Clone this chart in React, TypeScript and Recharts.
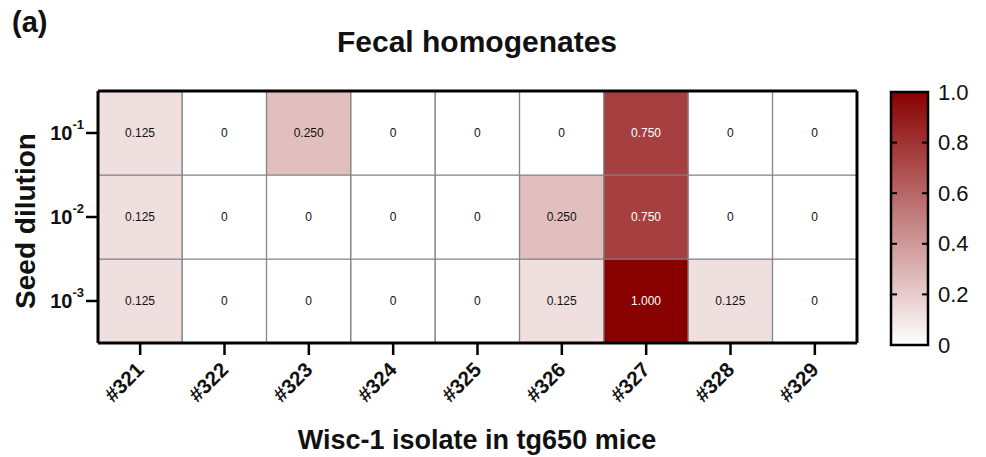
import React from "react";
import { BarChart, Bar, XAxis, YAxis, Cell, LabelList } from "recharts";

// ---- data ----
const isolates = ["#321", "#322", "#323", "#324", "#325", "#326", "#327", "#328", "#329"];
const dilution1 = [0.125, 0, 0.25, 0, 0, 0, 0.75, 0, 0]; // 10^-1
const dilution2 = [0.125, 0, 0, 0, 0, 0.25, 0.75, 0, 0]; // 10^-2
const dilution3 = [0.125, 0, 0, 0, 0, 0.125, 1.0, 0.125, 0]; // 10^-3
const dilutionBase = "10";
const dilutionExponents = ["-3", "-2", "-1"]; // bottom -> top
const rowTicks = [0.5, 1.5, 2.5];
const colorbarTicks = [0, 0.2, 0.4, 0.6, 0.8, 1.0];
const colorbarLabels = ["0", "0.2", "0.4", "0.6", "0.8", "1.0"];
const scaleMax = 1;

const FONT = "'Liberation Sans', Arial, Helvetica, sans-serif";
const LOW = [255, 255, 255];
const HIGH = [136, 0, 0];

function heat(v: number): string {
  const t = Math.max(0, Math.min(1, v / scaleMax));
  const c = LOW.map((l, i) => Math.round(l + (HIGH[i] - l) * t));
  return `rgb(${c[0]},${c[1]},${c[2]})`;
}

const rowsBottomUp = [
  { key: "d3", values: dilution3 },
  { key: "d2", values: dilution2 },
  { key: "d1", values: dilution1 },
];

const table = isolates.map((name, i) => {
  const o: any = { name };
  rowsBottomUp.forEach((r) => {
    o[r.key] = 1; // each dilution occupies one row of the grid
    o[r.key + "v"] = r.values[i];
  });
  return o;
});

const cellLabel = (props: any) => {
  const { x, y, width, height, value } = props;
  const v = Number(value);
  return (
    <text
      x={x + width / 2}
      y={y + height / 2}
      textAnchor="middle"
      dominantBaseline="central"
      fontFamily={FONT}
      fontSize={12}
      fill={v >= 0.5 ? "#ffffff" : "#111111"}
    >
      {v === 0 ? "0" : v.toFixed(3)}
    </text>
  );
};

const DilutionTick = (props: any) => {
  const { x, y, payload } = props;
  const idx = rowTicks.indexOf(payload.value);
  return (
    <text x={x} y={y} textAnchor="end" fontFamily={FONT} fontWeight="bold" fill="#111">
      <tspan fontSize={20} dy="0.36em">{dilutionBase}</tspan>
      <tspan fontSize={13} dy="-0.85em">{dilutionExponents[idx]}</tspan>
    </text>
  );
};

const IsolateTick = (props: any) => {
  const { x, y, payload } = props;
  const ax = x + 5;
  const ay = y + 14;
  return (
    <text
      x={ax}
      y={ay}
      transform={`rotate(-45, ${ax}, ${ay})`}
      textAnchor="end"
      fontFamily={FONT}
      fontWeight="bold"
      fontSize={20.5}
      fill="#111"
    >
      {payload.value}
    </text>
  );
};

const ColorbarTick = (props: any) => {
  const { x, y, payload, index } = props;
  const v = payload.value;
  const inner = v > 0 && v < scaleMax;
  const barW = 37;
  return (
    <g>
      {inner && <line x1={x} y1={y} x2={x - 6} y2={y} stroke="#000" strokeWidth={2} />}
      {inner && <line x1={x - barW} y1={y} x2={x - barW + 6} y2={y} stroke="#000" strokeWidth={2} />}
      <text x={x + 10} y={y} dominantBaseline="central" fontFamily={FONT} fontSize={22} fill="#111">
        {colorbarLabels[index]}
      </text>
    </g>
  );
};

export default function App() {
  const W = 986;
  const H = 457;
  return (
    <div style={{ position: "relative", width: W, height: H, background: "#fff", fontFamily: FONT }}>
      <style>{`body{margin:0}`}</style>
      <div style={{ position: "absolute", left: 0, top: 0 }}>
        <BarChart
          width={W}
          height={H}
          data={table}
          margin={{ top: 90, right: 128, bottom: 54, left: 38 }}
          barCategoryGap={0}
          barGap={0}
        >
          <XAxis
            dataKey="name"
            type="category"
            interval={0}
            height={60}
            tickSize={12}
            tickMargin={2}
            axisLine={{ stroke: "#000", strokeWidth: 3 }}
            tickLine={{ stroke: "#000", strokeWidth: 2.5 }}
            tick={<IsolateTick />}
          />
          <XAxis
            xAxisId="top"
            dataKey="name"
            orientation="top"
            height={1}
            tick={false}
            tickLine={false}
            axisLine={{ stroke: "#000", strokeWidth: 3 }}
          />
          <YAxis
            type="number"
            domain={[0, 3]}
            ticks={rowTicks}
            width={60}
            tickSize={12}
            tickMargin={2}
            allowDataOverflow
            axisLine={{ stroke: "#000", strokeWidth: 3 }}
            tickLine={{ stroke: "#000", strokeWidth: 2.5 }}
            tick={<DilutionTick />}
          />
          <YAxis
            yAxisId="right"
            orientation="right"
            domain={[0, 3]}
            width={1}
            tick={false}
            tickLine={false}
            axisLine={{ stroke: "#000", strokeWidth: 3 }}
          />
          {rowsBottomUp.map((r) => (
            <Bar
              key={r.key}
              dataKey={r.key}
              stackId="grid"
              stroke="#808080"
              strokeWidth={1}
              isAnimationActive={false}
            >
              {table.map((d, i) => (
                <Cell key={i} fill={heat(d[r.key + "v"])} />
              ))}
              <LabelList dataKey={r.key + "v"} content={cellLabel} />
            </Bar>
          ))}
        </BarChart>
      </div>

      <div style={{ position: "absolute", left: 0, top: 0 }}>
        <BarChart
          width={W}
          height={H}
          data={[{ name: "scale", v: scaleMax }]}
          margin={{ top: 92, right: 0, bottom: 112, left: 891 }}
          barCategoryGap={0}
        >
          <defs>
            <linearGradient id="cbarGrad" x1="0" y1="1" x2="0" y2="0">
              {colorbarTicks.map((t) => (
                <stop key={t} offset={t / scaleMax} stopColor={heat(t)} />
              ))}
            </linearGradient>
          </defs>
          <XAxis dataKey="name" hide />
          <YAxis
            orientation="right"
            domain={[0, scaleMax]}
            ticks={colorbarTicks}
            width={58}
            tickSize={0}
            tickMargin={0}
            axisLine={false}
            tickLine={false}
            tick={<ColorbarTick />}
          />
          <Bar dataKey="v" fill="url(#cbarGrad)" stroke="#000" strokeWidth={2.5} isAnimationActive={false} />
        </BarChart>
      </div>

      <svg
        width={W}
        height={H}
        style={{ position: "absolute", left: 0, top: 0, pointerEvents: "none" }}
      >
        <text x={12} y={32} fontFamily={FONT} fontWeight="bold" fontSize={29} fill="#111">
          (a)
        </text>
        <text x={477} y={52} textAnchor="middle" fontFamily={FONT} fontWeight="bold" fontSize={30} fill="#111">
          Fecal homogenates
        </text>
        <text x={477} y={449} textAnchor="middle" fontFamily={FONT} fontWeight="bold" fontSize={27} fill="#111">
          Wisc-1 isolate in tg650 mice
        </text>
        <text
          transform="translate(35,221) rotate(-90)"
          textAnchor="middle"
          fontFamily={FONT}
          fontWeight="bold"
          fontSize={28}
          fill="#111"
        >
          Seed dilution
        </text>
      </svg>
    </div>
  );
}
